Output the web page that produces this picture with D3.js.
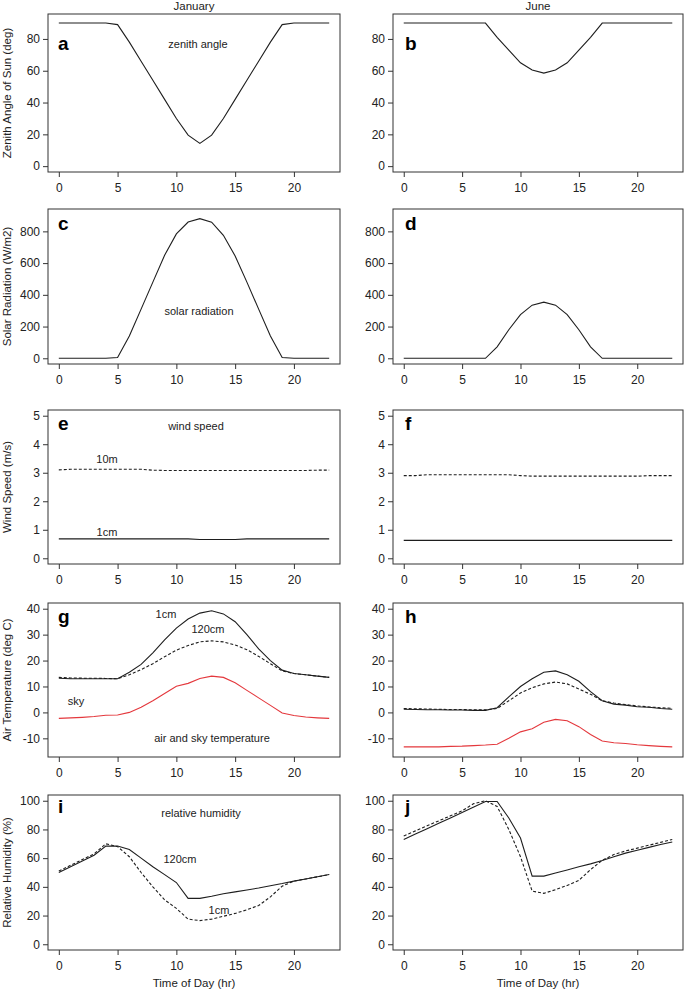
<!DOCTYPE html>
<html>
<head>
<meta charset="utf-8">
<script src="https://cdn.jsdelivr.net/npm/d3@7"></script>
<style>
  body { margin: 0; background: #fff; }
  text { font-family: "Liberation Sans", Arial, sans-serif; fill: #222; }
</style>
</head>
<body>
<div id="chart"></div>
<script>
// hours of the day
const hours = [0,1,2,3,4,5,6,7,8,9,10,11,12,13,14,15,16,17,18,19,20,21,22,23];

// zenith angle of sun (deg)
const zenithJan = [90,90,90,90,90,89,78,66,54,42,30,19.5,14.3,19.5,30,42,54,66,78,89,90,90,90,90];
const zenithJun = [90,90,90,90,90,90,90,90,81,73,65,60.5,58.5,60.5,65,73,81,90,90,90,90,90,90,90];

// solar radiation (W/m2)
const solarJan = [0,0,0,0,0,5,140,310,480,650,784,859,880,858,775,645,480,310,140,5,0,0,0,0];
const solarJun = [0,0,0,0,0,0,0,0,72,180,275,335,354,335,275,180,72,0,0,0,0,0,0,0];

// wind speed (m/s)
const wind10mJan = [3.1,3.12,3.12,3.12,3.12,3.12,3.12,3.12,3.09,3.08,3.08,3.08,3.08,3.08,3.08,3.08,3.08,3.08,3.08,3.08,3.08,3.08,3.09,3.09];
const wind1cmJan = [0.68,0.68,0.68,0.68,0.68,0.68,0.68,0.68,0.68,0.68,0.68,0.68,0.66,0.66,0.66,0.66,0.68,0.68,0.68,0.68,0.68,0.68,0.68,0.68];
const wind10mJun = [2.9,2.9,2.93,2.93,2.93,2.93,2.93,2.93,2.93,2.93,2.9,2.88,2.88,2.88,2.88,2.88,2.88,2.88,2.88,2.88,2.88,2.9,2.9,2.9];
const wind1cmJun = [0.63,0.63,0.63,0.63,0.63,0.63,0.63,0.63,0.63,0.63,0.63,0.63,0.63,0.63,0.63,0.63,0.63,0.63,0.63,0.63,0.63,0.63,0.63,0.63];

// air and sky temperature (deg C)
const air1cmJan = [13.2,13,13,13,13,13,15.5,18.5,23,28,32.5,36,38.3,39.2,38,35,30,24.5,20,16.3,15,14.5,14,13.5];
const air120Jan = [13.5,13.3,13.2,13.2,13.1,13,14.5,16.5,18.8,21.5,24,25.8,27.2,27.6,27.2,26,24.2,21.6,18.8,16,15,14.5,14,13.5];
const skyJan = [-2.3,-2.1,-1.9,-1.6,-1.1,-1,0,2,4.5,7.3,10.1,11.2,13.1,14,13.5,11.4,8.5,5.6,2.7,-0.2,-1.2,-1.8,-2.1,-2.3];
const air1cmJun = [1.2,1.1,1,1,0.9,0.9,0.8,0.8,1.8,6,10,13,15.5,16,14.5,12,8,4.5,3.2,2.8,2.2,2,1.5,1.2];
const air120Jun = [1.5,1.4,1.3,1.2,1.1,1.1,1,1,1.5,4.5,7.5,9.5,11,11.7,11,9,7,4.5,3.6,3,2.5,2.1,1.8,1.6];
const skyJun = [-13.3,-13.3,-13.3,-13.3,-13.1,-13,-12.8,-12.6,-12.3,-10,-7.5,-6.3,-3.8,-2.7,-3.2,-5.5,-8.5,-11,-11.7,-12,-12.5,-12.8,-13.1,-13.3];

// relative humidity (%)
const rh120Jan = [50,54,58,62,68.4,68.5,66,60,54,48.5,43,32,32,33.5,35.2,36.5,37.8,39.2,40.8,42.3,44,45.5,47,48.6];
const rh1cmJan = [51,55,59,63,70,68,61,50,40,31,25,17.5,16.5,17.5,19.5,21.5,24,27,33,40.5,44,45.5,47,48.6];
const rh120Jun = [73,76.8,80.5,84.3,88,91.8,95.6,99.5,99.5,88,74,47.5,47.5,49.7,51.8,54,56,58.3,61,63.5,65.5,67.5,69.5,71.2];
const rh1cmJun = [75.5,79,82.5,86,89.5,93,98,100,96,80,61,37,35.5,38,41,44.5,52,58.5,62.5,65,67,69,71,73];

const xTicks = [0,5,10,15,20];
const colTitles = ["January", "June"];
const letters = ["a","b","c","d","e","f","g","h","i","j"];

const width = 685, height = 992;
const cols = [{x0:48, x1:340}, {x0:393, x1:683}];
const rows = [
  {y0:14,  y1:172, dom:[-3.68, 95.68], ticks:[0,20,40,60,80], title:"Zenith Angle of Sun (deg)", letterY:50},
  {y0:209, y1:364, dom:[-36, 941], ticks:[0,200,400,600,800], title:"Solar Radiation (W/m2)", letterY:230},
  {y0:410, y1:564, dom:[-0.2, 5.2], ticks:[0,1,2,3,4,5], title:"Wind Speed (m/s)", letterY:430},
  {y0:603, y1:757, dom:[-17.2, 42.2], ticks:[-10,0,10,20,30,40], title:"Air Temperature (deg C)", letterY:623},
  {y0:795, y1:950, dom:[-4, 104], ticks:[0,20,40,60,80,100], title:"Relative Humidity (%)", letterY:813}
];

// series for each panel [row][col]
const panels = [
  [[{v:zenithJan}], [{v:zenithJun}]],
  [[{v:solarJan}], [{v:solarJun}]],
  [[{v:wind10mJan, dash:true}, {v:wind1cmJan}], [{v:wind10mJun, dash:true}, {v:wind1cmJun}]],
  [[{v:air120Jan, dash:true}, {v:air1cmJan}, {v:skyJan, red:true}], [{v:air120Jun, dash:true}, {v:air1cmJun}, {v:skyJun, red:true}]],
  [[{v:rh1cmJan, dash:true}, {v:rh120Jan}], [{v:rh1cmJun, dash:true}, {v:rh120Jun}]]
];

// text notes inside the January panels
const notes = [
  {x:198, y:48.3, t:"zenith angle"},
  {x:199, y:315, t:"solar radiation"},
  {x:196, y:430, t:"wind speed"},
  {x:107, y:463, t:"10m"},
  {x:107, y:535.7, t:"1cm"},
  {x:166, y:618.3, t:"1cm"},
  {x:208, y:633.3, t:"120cm"},
  {x:76, y:705, t:"sky"},
  {x:212, y:741.7, t:"air and sky temperature"},
  {x:201, y:816.7, t:"relative humidity"},
  {x:180, y:862.7, t:"120cm"},
  {x:219, y:914.3, t:"1cm"}
];

const svg = d3.select("#chart").append("svg")
  .attr("width", width)
  .attr("height", height);

// plain labels, hyphen minus like R
const fmt = d => String(d);

rows.forEach((r, ri) => {
  cols.forEach((c, ci) => {
    const x = d3.scaleLinear().domain([-0.92, 23.92]).range([c.x0, c.x1]);
    const y = d3.scaleLinear().domain(r.dom).range([r.y1, r.y0]);
    const g = svg.append("g");

    // x axis
    const xa = g.append("g")
      .attr("transform", `translate(0,${r.y1})`)
      .call(d3.axisBottom(x).tickValues(xTicks).tickFormat(fmt).tickSize(5).tickSizeOuter(0).tickPadding(6));
    xa.select(".domain").remove();
    xa.selectAll("line").attr("stroke", "#333");
    xa.selectAll("text").attr("font-size", "12px").attr("fill", "#222");

    // y axis
    const ya = g.append("g")
      .attr("transform", `translate(${c.x0},0)`)
      .call(d3.axisLeft(y).tickValues(r.ticks).tickFormat(fmt).tickSize(5).tickSizeOuter(0).tickPadding(3));
    ya.select(".domain").remove();
    ya.selectAll("line").attr("stroke", "#333");
    ya.selectAll("text").attr("font-size", "12px").attr("fill", "#222");

    // box
    g.append("rect")
      .attr("x", c.x0).attr("y", r.y0)
      .attr("width", c.x1 - c.x0).attr("height", r.y1 - r.y0)
      .attr("fill", "none").attr("stroke", "#333").attr("stroke-width", 1);

    const line = d3.line().x((d, i) => x(hours[i])).y(d => y(d));
    panels[ri][ci].forEach(s => {
      g.append("path")
        .datum(s.v)
        .attr("d", line)
        .attr("fill", "none")
        .attr("stroke", s.red ? "#e4383d" : "#1e1e1e")
        .attr("stroke-width", 1.1)
        .attr("stroke-dasharray", s.dash ? "3,2" : null);
    });

    // panel letter
    g.append("text")
      .attr("x", ci === 0 ? 58 : 405)
      .attr("y", r.letterY)
      .attr("font-size", "19px")
      .attr("font-weight", "bold")
      .style("fill", "#000")
      .text(letters[ri * 2 + ci]);

    if (ci === 0) {
      g.append("text")
        .attr("transform", `translate(10.5,${(r.y0 + r.y1) / 2}) rotate(-90)`)
        .attr("text-anchor", "middle")
        .attr("font-size", "11.5px")
        .text(r.title);
    }
  });
});

// column titles and x titles
cols.forEach((c, ci) => {
  svg.append("text")
    .attr("x", (c.x0 + c.x1) / 2).attr("y", 9.5)
    .attr("text-anchor", "middle").attr("font-size", "11.5px")
    .text(colTitles[ci]);
  svg.append("text")
    .attr("x", (c.x0 + c.x1) / 2).attr("y", 987)
    .attr("text-anchor", "middle").attr("font-size", "11.5px")
    .text("Time of Day (hr)");
});

notes.forEach(n => {
  svg.append("text")
    .attr("x", n.x).attr("y", n.y)
    .attr("text-anchor", "middle").attr("font-size", "11px")
    .text(n.t);
});
</script>
</body>
</html>
